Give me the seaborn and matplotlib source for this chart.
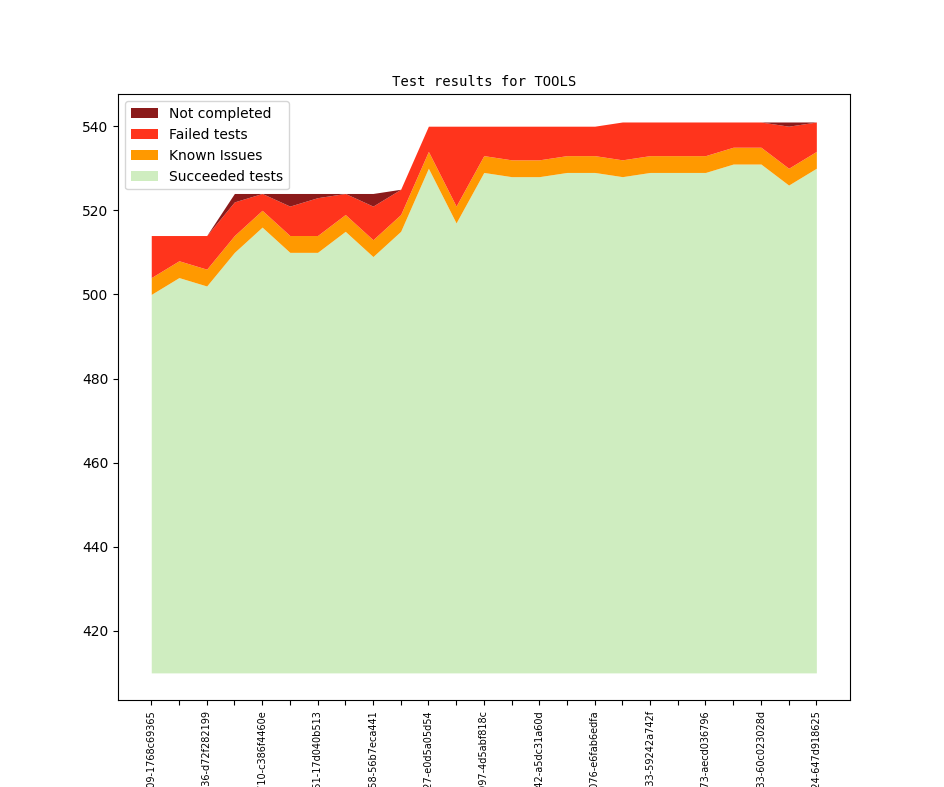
import matplotlib
matplotlib.use('Agg')
import matplotlib.pyplot as plt
import numpy as np
import seaborn as sns

# Builds (only every other tick got a label; the prefix is cut off by the figure edge)
build_labels = ['3.2.0-1609-1768c69365', '3.2.0-1636-d72f282199', '3.2.0-1710-c386f4460e',
                '3.2.0-1751-17d040b513', '3.2.0-1858-56b7eca441', '3.2.0-1927-e0d5a05d54',
                '3.2.0-1997-4d5abf818c', '3.2.0-2042-a5dc31a60d', '3.2.0-2076-e6fab6edfa',
                '3.2.0-2133-59242a742f', '3.2.0-2173-aecd036796', '3.2.0-2233-60c023028d',
                '3.2.0-2324-647d918625']

# Test counts per build
succeeded = [500, 504, 502, 510, 516, 510, 510, 515, 509, 515, 530, 517, 529,
             528, 528, 529, 529, 528, 529, 529, 529, 531, 531, 526, 530]
known_issues = [4, 4, 4, 4, 4, 4, 4, 4, 4, 4, 4, 4, 4,
                4, 4, 4, 4, 4, 4, 4, 4, 4, 4, 4, 4]
failed = [10, 6, 8, 8, 4, 7, 9, 5, 8, 6, 6, 19, 7,
          8, 8, 7, 7, 9, 8, 8, 8, 6, 6, 10, 7]
not_completed = [0, 0, 0, 2, 0, 3, 1, 0, 3, 0, 0, 0, 0,
                 0, 0, 0, 0, 0, 0, 0, 0, 0, 0, 1, 0]
base = 410

series = ['Succeeded tests', 'Known Issues', 'Failed tests', 'Not completed']
colors = sns.color_palette(['#cfedc0', '#ff9900', '#ff341c', '#8b1a1a'])

x = np.arange(len(succeeded))
layers = [succeeded, known_issues, failed, not_completed]

fig, ax = plt.subplots(figsize=(9.44, 7.87), dpi=100)

# Stack the layers on top of the base line
bottom = np.full(len(x), base, dtype=float)
top = np.array(succeeded, dtype=float)
ax.fill_between(x, bottom, top, color=colors[0], label=series[0], linewidth=0)
for name, vals, col in zip(series[1:], layers[1:], colors[1:]):
    new_top = top + np.array(vals)
    ax.fill_between(x, top, new_top, color=col, label=name, linewidth=0)
    top = new_top

ax.set_title('Test results for TOOLS', fontsize=10, family='monospace')

# Legend in reverse stacking order
handles, labels = ax.get_legend_handles_labels()
ax.legend(handles[::-1], labels[::-1], loc='upper left')

tick_text = [''] * len(x)
tick_text[::2] = build_labels
ax.set_xticks(x)
ax.set_xticklabels(tick_text, rotation=90, fontsize=7)

plt.savefig('out.png', dpi=100)
